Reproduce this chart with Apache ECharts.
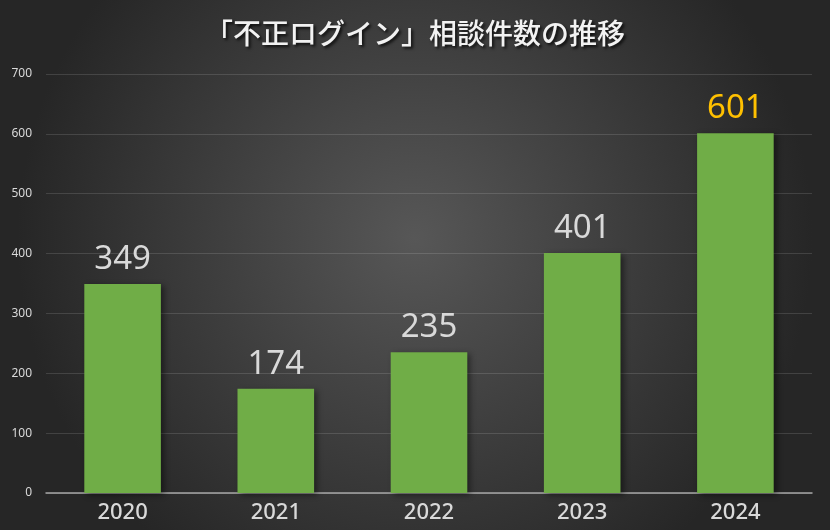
<!DOCTYPE html>
<html><head><meta charset="utf-8">
<script src="https://cdn.jsdelivr.net/npm/echarts@6/dist/echarts.min.js"></script>
<style>html,body{margin:0;padding:0;background:#3a3a3a}#c{width:830px;height:530px}</style>
</head><body><div id="c"></div>
<script>
const categories = ['2020','2021','2022','2023','2024'];
const values = [349, 174, 235, 401, 601];
const labelColors = ['#d9d9d9','#d9d9d9','#d9d9d9','#d9d9d9','#FFC000'];
const yTicks = [0,100,200,300,400,500,600,700];

const chart = echarts.init(document.getElementById('c'));
chart.setOption({
  backgroundColor: {
    type: 'radial', x: 0.5, y: 0.45, r: 0.75,
    colorStops: [{offset: 0, color: '#575757'}, {offset: 1, color: '#262626'}]
  },
  title: {
    text: '「不正ログイン」相談件数の推移',
    left: 'center', top: 14,
    textStyle: {
      color: '#f2f2f2', fontSize: 28, fontWeight: 500,
      fontFamily: '"Noto Sans CJK JP", sans-serif',
      textShadowColor: 'rgba(0,0,0,0.75)', textShadowBlur: 3, textShadowOffsetX: 2, textShadowOffsetY: 2
    }
  },
  grid: {left: 46, right: 18, top: 74, bottom: 37},
  xAxis: {
    type: 'category', data: categories,
    axisLine: {lineStyle: {color: '#a6a6a6', width: 1.5}},
    axisTick: {show: false},
    axisLabel: {color: '#d9d9d9', fontSize: 22, fontWeight: 500, margin: 9, fontFamily: '"Noto Sans", sans-serif'}
  },
  yAxis: {
    type: 'value', min: 0, max: 700, interval: 100,
    axisLine: {show: false}, axisTick: {show: false},
    splitLine: {lineStyle: {color: 'rgba(255,255,255,0.13)'}},
    axisLabel: {color: '#d9d9d9', fontSize: 12, margin: 14,
      fontFamily: '"Liberation Sans Narrow", "Noto Sans", sans-serif',
      formatter: v => yTicks.includes(v) ? String(v) : ''}
  },
  series: [{
    type: 'bar', data: values.map((v, i) => ({value: v, label: {color: labelColors[i]}})),
    barWidth: '50%',
    itemStyle: {color: '#70AD47', shadowColor: 'rgba(0,0,0,0.45)', shadowBlur: 6, shadowOffsetX: 3, shadowOffsetY: 2},
    label: {show: true, position: 'top', distance: 8, fontSize: 33,
      fontFamily: '"Noto Sans", sans-serif'}
  }]
});
</script></body></html>
